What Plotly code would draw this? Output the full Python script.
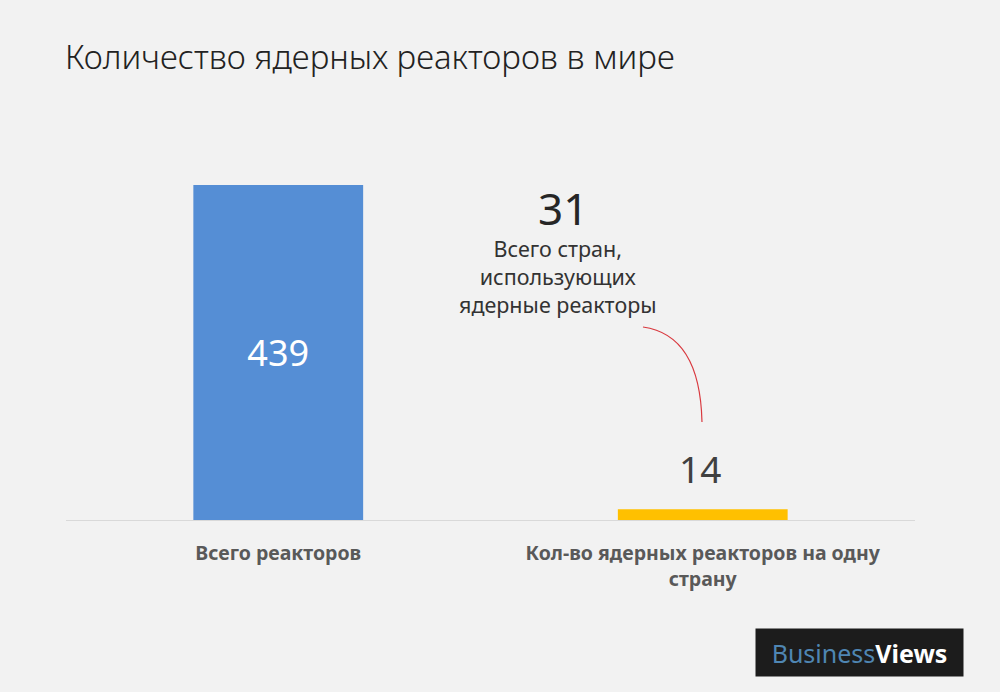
import plotly.graph_objects as go

categories = ["Всего реакторов", "Кол-во ядерных реакторов на одну страну"]
tick_labels = ["<b>Всего реакторов</b>", "<b>Кол-во ядерных реакторов на одну<br>страну</b>"]
values = [439, 14]
bar_colors = ["#558ed5", "#ffc000"]
countries_total = 31
countries_note = "Всего стран,<br>использующих<br>ядерные реакторы"
title_text = "Количество ядерных реакторов в мире"

FONT = "Noto Sans"

fig = go.Figure()
fig.add_trace(go.Bar(
    x=categories,
    y=values,
    marker=dict(color=bar_colors, line=dict(width=0)),
    text=[str(values[0]), ""],
    textposition="inside",
    insidetextanchor="middle",
    textfont=dict(color="white", size=36, family=FONT),
    hoverinfo="skip",
))

# value label above the small bar
fig.add_annotation(
    x=categories[1], y=values[1], xref="x", yref="y",
    text=str(values[1]), showarrow=False, yanchor="bottom", yshift=13,
    xshift=-3,
    font=dict(size=37, color="#404040", family=FONT),
)

# 31 countries callout
fig.add_annotation(
    x=0.5854, y=0.7429, xref="paper", yref="paper",
    text=str(countries_total), showarrow=False, xanchor="center", yanchor="middle",
    font=dict(size=44, color="#262626", family=FONT),
)
fig.add_annotation(
    x=0.5795, y=0.5786, xref="paper", yref="paper",
    text=countries_note, showarrow=False, xanchor="center", yanchor="middle",
    font=dict(size=21.5, color="#333333", family=FONT), align="center",
)

# curved red connector
fig.add_shape(
    type="path", xref="paper", yref="paper",
    path="M 0.6796,0.4595 Q 0.7468,0.4405 0.7491,0.2333",
    line=dict(color="#d9393f", width=1.2),
)

# title
fig.add_annotation(
    x=-0.0035, y=1.0, xref="paper", yref="paper",
    text=title_text, showarrow=False, xanchor="left", yanchor="middle",
    yshift=44,
    font=dict(size=33, color="#222222", family=FONT, weight=300),
)

# logo
fig.add_annotation(
    x=0.9352, y=-0.3143, xref="paper", yref="paper",
    text="<span style='color:#4f86b3'>Business</span><b>Views</b>",
    showarrow=False, xanchor="center", yanchor="middle",
    font=dict(size=25, color="white", family=FONT),
    bgcolor="#1c1c1c", width=199, height=39, borderpad=4,
)

fig.update_layout(
    width=1000, height=692,
    margin=dict(l=66, r=85, t=100, b=172),
    paper_bgcolor="#f2f2f2", plot_bgcolor="#f2f2f2",
    bargap=0.6, showlegend=False,
    xaxis=dict(
        tickmode="array", tickvals=categories, ticktext=tick_labels,
        showline=True, linecolor="#d9d9d9", linewidth=1,
        ticks="", showgrid=False, zeroline=False,
        ticklabelstandoff=16,
        tickfont=dict(size=19.5, color="#595959", family=FONT),
    ),
    yaxis=dict(range=[0, 550.4], visible=False, showgrid=False, zeroline=False),
)

fig.write_html("out.html")
